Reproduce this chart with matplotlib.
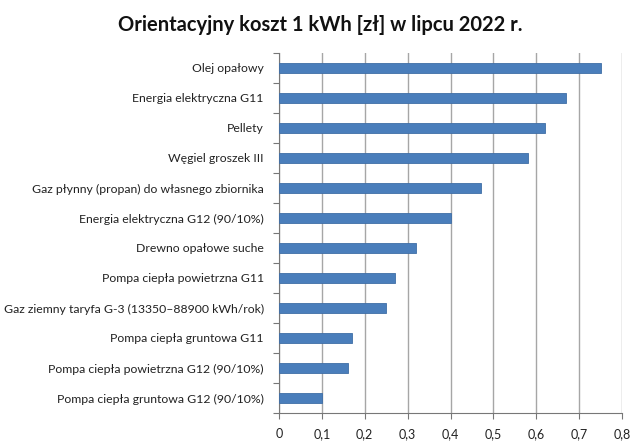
import matplotlib
matplotlib.use("Agg")
import matplotlib.pyplot as plt
import numpy as np

plt.rcParams['font.family'] = ['Lato', 'DejaVu Sans']

categories = [
    "Olej opałowy",
    "Energia elektryczna G11",
    "Pellety",
    "Węgiel groszek III",
    "Gaz płynny (propan) do własnego zbiornika",
    "Energia elektryczna G12 (90/10%)",
    "Drewno opałowe suche",
    "Pompa ciepła powietrzna G11",
    "Gaz ziemny taryfa G-3 (13350–88900 kWh/rok)",
    "Pompa ciepła gruntowa G11",
    "Pompa ciepła powietrzna G12 (90/10%)",
    "Pompa ciepła gruntowa G12 (90/10%)",
]
values = [0.75, 0.67, 0.62, 0.58, 0.47, 0.40, 0.32, 0.27, 0.25, 0.17, 0.16, 0.10]
xticks = [0, 0.1, 0.2, 0.3, 0.4, 0.5, 0.6, 0.7, 0.8]
xtick_labels = ["0", "0,1", "0,2", "0,3", "0,4", "0,5", "0,6", "0,7", "0,8"]
title = "Orientacyjny koszt 1 kWh [zł] w lipcu 2022 r."

fig = plt.figure(figsize=(6.4, 4.46), dpi=100)
ax = fig.add_axes([279/640, 1 - 413/446, (622-279)/640, (413-53)/446])

n = len(categories)
y = np.arange(n)
ax.barh(y, values, height=0.36, color="#4A7EBB", edgecolor="#3F6EA6", linewidth=0.6, zorder=3)
ax.set_ylim(n - 0.5, -0.5)
ax.set_xlim(0, 0.8)

ax.set_yticks(y)
ax.set_yticklabels(categories, fontsize=8.8, color="#222222")
ax.set_yticks(np.arange(n + 1) - 0.5, minor=True)
ax.tick_params(axis='y', which='major', length=0, pad=11)
ax.tick_params(axis='y', which='minor', length=4, width=0.8, color="#777777", direction='out')

ax.set_xticks(xticks)
ax.set_xticklabels(xtick_labels, fontsize=9, color="#222222")
ax.tick_params(axis='x', which='major', length=4, width=0.8, color="#777777", direction='out', pad=7)

ax.grid(axis='x', color="#A6A6A6", linewidth=1.0, zorder=0)
ax.spines['top'].set_visible(False)
ax.spines['right'].set_visible(False)
ax.spines['left'].set_color("#777777")
ax.spines['bottom'].set_color("#777777")

fig.text(0.5, 1 - 25/446, title, ha='center', va='center', fontsize=14.5, fontweight='bold', color="#111111")

fig.savefig("out.png", dpi=100)
